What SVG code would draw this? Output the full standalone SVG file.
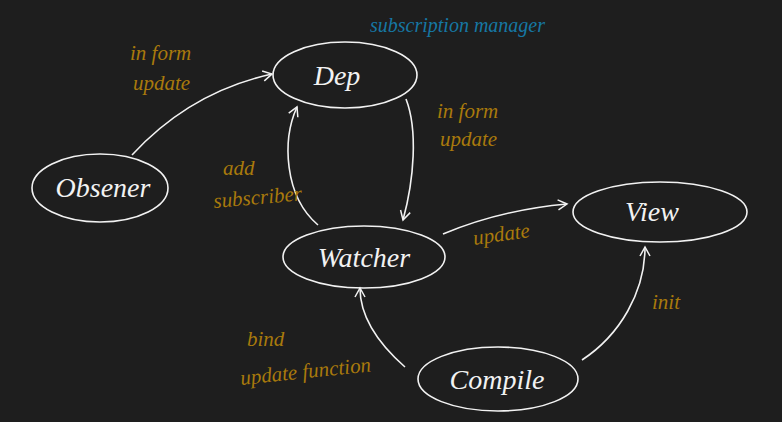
<svg xmlns="http://www.w3.org/2000/svg" width="782" height="422" viewBox="0 0 782 422">
<style>
.node{fill:none;stroke:#f2f2f2;stroke-width:1.6}
.nt{fill:#f2f2f2;font-family:"Liberation Serif",serif;font-style:italic;font-size:28px;text-anchor:middle}
.edge{fill:none;stroke:#f2f2f2;stroke-width:1.6}
.lab{fill:#a97a0c;font-family:"Liberation Serif",serif;font-style:italic;font-size:21px}
.blue{fill:#1677a3;font-family:"Liberation Serif",serif;font-style:italic;font-size:20px}
</style>
<defs>
<marker id="ah" viewBox="0 0 12 12" refX="10" refY="6" markerWidth="12" markerHeight="12" markerUnits="userSpaceOnUse" orient="auto">
<path d="M1,1 L10,6 L1,11" fill="none" stroke="#f2f2f2" stroke-width="1.5"/>
</marker>
</defs>
<rect width="782" height="422" fill="#1e1e1e"/>
<g id="connectors">
<path class="edge" marker-end="url(#ah)" d="M132,155 Q190,92 272,74"/>
<path class="edge" marker-end="url(#ah)" d="M406,99 C418,130 414,180 403,220"/>
<path class="edge" marker-end="url(#ah)" d="M318,225 C284,196 282,140 297,107"/>
<path class="edge" marker-end="url(#ah)" d="M443,234 Q500,210 567,204"/>
<path class="edge" marker-end="url(#ah)" d="M405,367 C380,345 360,318 360,288"/>
<path class="edge" marker-end="url(#ah)" d="M582,360 C620,335 645,292 645,247"/>
</g>
<g id="observer"><ellipse class="node" cx="100" cy="188" rx="68" ry="34"/><text class="nt" x="103" y="197">Obsener</text></g>
<g id="dep"><ellipse class="node" cx="345" cy="75" rx="72" ry="33"/><text class="nt" x="337" y="85">Dep</text></g>
<g id="watcher"><ellipse class="node" cx="364" cy="257" rx="81" ry="31"/><text class="nt" x="364" y="267">Watcher</text></g>
<g id="view"><ellipse class="node" cx="660" cy="212" rx="87" ry="30"/><text class="nt" x="652" y="221">View</text></g>
<g id="compile"><ellipse class="node" cx="498" cy="379" rx="80" ry="32"/><text class="nt" x="497" y="389">Compile</text></g>
<g id="labels">
<text class="lab" x="130" y="60">in form</text>
<text class="lab" x="133" y="90">update</text>
<text class="blue" x="370" y="32">subscription manager</text>
<text class="lab" x="437" y="118">in form</text>
<text class="lab" x="440" y="146">update</text>
<text class="lab" x="223" y="175">add</text>
<text class="lab" x="214" y="208" font-size="19" transform="rotate(-5 214 208)">subscriber</text>
<text class="lab" x="474" y="245" transform="rotate(-8 474 245)">update</text>
<text class="lab" x="652" y="309">init</text>
<text class="lab" x="247" y="346">bind</text>
<text class="lab" x="241" y="385" transform="rotate(-6 241 385)">update function</text>
</g>
</svg>
